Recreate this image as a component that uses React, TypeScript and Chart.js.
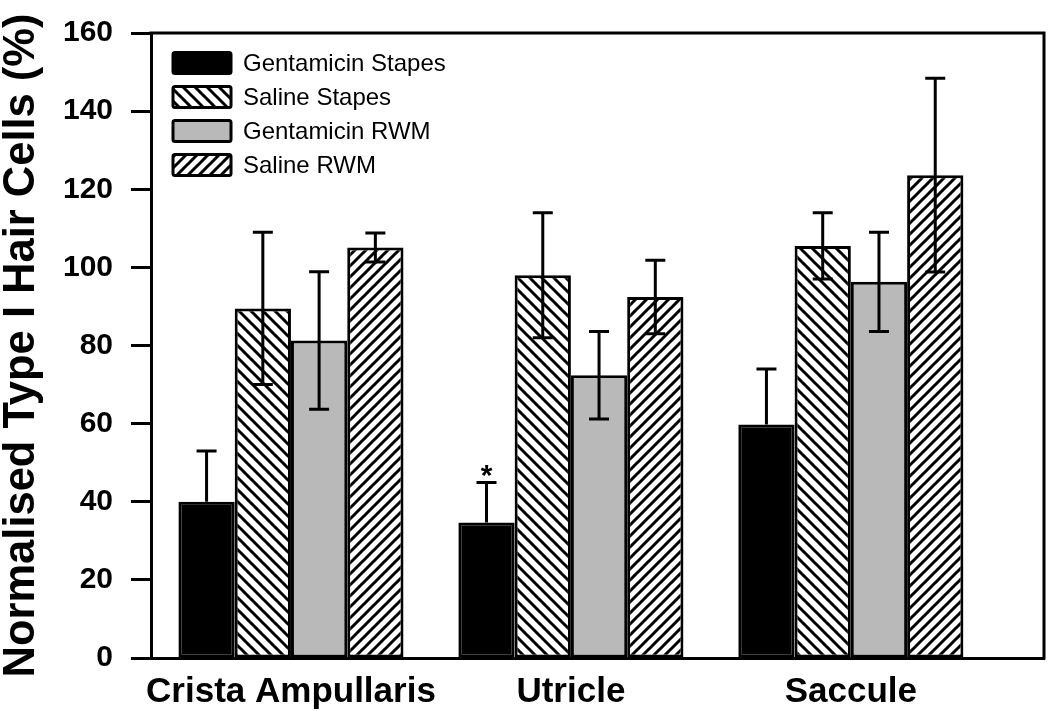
import React, { useEffect, useRef } from 'react';
import { Chart, registerables } from 'chart.js';

Chart.register(...registerables);

const categories = ['Crista Ampullaris', 'Utricle', 'Saccule'];
const seriesNames = ['Gentamicin Stapes', 'Saline Stapes', 'Gentamicin RWM', 'Saline RWM'];

const gentamicinStapes = [40, 34.7, 59.8];
const gentamicinStapesErr = [13, 10.2, 14.2];
const salineStapes = [89.5, 98, 105.5];
const salineStapesErr = [19.5, 16, 8.5];
const gentamicinRWM = [81.3, 72.4, 96.3];
const gentamicinRWMErr = [17.6, 11.2, 12.7];
const salineRWM = [105.1, 92.4, 123.6];
const salineRWMErr = [3.7, 9.4, 24.8];

const yTicks = [0, 20, 40, 60, 80, 100, 120, 140, 160];
const significant = [false, true, false];

const FONT = "'Liberation Sans', Arial, sans-serif";

function makeHatch(dir: 'back' | 'fwd', size: number, lw: number): CanvasPattern | string {
  const c = document.createElement('canvas');
  c.width = size;
  c.height = size;
  const g = c.getContext('2d');
  if (!g) return '#fff';
  g.fillStyle = '#fff';
  g.fillRect(0, 0, size, size);
  g.strokeStyle = '#000';
  g.lineWidth = lw;
  g.lineCap = 'square';
  g.beginPath();
  if (dir === 'back') {
    g.moveTo(0, 0); g.lineTo(size, size);
    g.moveTo(-2, size - 2); g.lineTo(2, size + 2);
    g.moveTo(size - 2, -2); g.lineTo(size + 2, 2);
  } else {
    g.moveTo(0, size); g.lineTo(size, 0);
    g.moveTo(-2, 2); g.lineTo(2, -2);
    g.moveTo(size - 2, size + 2); g.lineTo(size + 2, size - 2);
  }
  g.stroke();
  const p = g.createPattern(c, 'repeat');
  return p || '#fff';
}

const errorBarPlugin = {
  id: 'errorBars',
  afterDatasetsDraw(chart: any) {
    const { ctx } = chart;
    const yScale = chart.scales.y;
    chart.data.datasets.forEach((ds: any, i: number) => {
      const meta = chart.getDatasetMeta(i);
      meta.data.forEach((el: any, j: number) => {
        const v = ds.data[j].y;
        const e = ds.errors[j];
        const yTop = yScale.getPixelForValue(v + e);
        const yBar = yScale.getPixelForValue(v);
        const yBot = ds.upOnly ? yBar : yScale.getPixelForValue(v - e);
        const x = el.x;
        ctx.save();
        ctx.strokeStyle = '#000';
        ctx.lineWidth = 3;
        ctx.beginPath();
        ctx.moveTo(x, yBot);
        ctx.lineTo(x, yTop);
        ctx.moveTo(x - 10, yTop);
        ctx.lineTo(x + 10, yTop);
        if (!ds.upOnly) {
          ctx.moveTo(x - 10, yBot);
          ctx.lineTo(x + 10, yBot);
        }
        ctx.stroke();
        if (i === 0 && significant[j]) {
          ctx.fillStyle = '#000';
          ctx.font = `bold 30px ${FONT}`;
          ctx.textAlign = 'center';
          ctx.textBaseline = 'alphabetic';
          ctx.fillText('*', x, yTop + 2);
        }
        ctx.restore();
      });
    });
  },
};

const framePlugin = {
  id: 'frame',
  afterDraw(chart: any) {
    const { ctx, chartArea } = chart;
    ctx.save();
    ctx.strokeStyle = '#000';
    ctx.lineWidth = 3;
    ctx.beginPath();
    ctx.moveTo(chartArea.left - 1.5, chartArea.top);
    ctx.lineTo(chartArea.right, chartArea.top);
    ctx.lineTo(chartArea.right, chartArea.bottom + 1.5);
    ctx.stroke();
    ctx.restore();
  },
};

const legendPlugin = {
  id: 'customLegend',
  afterDraw(chart: any) {
    const { ctx } = chart;
    const x0 = 173;
    const w = 58;
    const h = 21;
    const y0 = 63;
    const step = 34;
    chart.data.datasets.forEach((ds: any, i: number) => {
      const cy = y0 + i * step;
      ctx.save();
      ctx.fillStyle = ds.backgroundColor;
      ctx.strokeStyle = '#000';
      ctx.lineWidth = 3;
      ctx.beginPath();
      if ((ctx as any).roundRect) {
        (ctx as any).roundRect(x0, cy - h / 2, w, h, 2);
      } else {
        ctx.rect(x0, cy - h / 2, w, h);
      }
      ctx.fill();
      ctx.stroke();
      ctx.fillStyle = '#000';
      ctx.font = `24px ${FONT}`;
      ctx.textAlign = 'left';
      ctx.textBaseline = 'middle';
      ctx.fillText(ds.label, x0 + w + 12, cy + 1);
      ctx.restore();
    });
  },
};

export default function App() {
  const ref = useRef<HTMLCanvasElement | null>(null);

  useEffect(() => {
    if (!ref.current) return;
    const backHatch = makeHatch('back', 12, 3);
    const fwdHatch = makeHatch('fwd', 11, 3);
    const toPts = (arr: number[]) => arr.map((v, i) => ({ x: i, y: v }));

    const chart = new Chart(ref.current, {
      type: 'bar',
      data: {
        datasets: [
          {
            label: seriesNames[0],
            data: toPts(gentamicinStapes),
            backgroundColor: '#000',
            borderColor: '#000',
            borderWidth: 3,
            borderSkipped: false,
            errors: gentamicinStapesErr,
            upOnly: true,
          } as any,
          {
            label: seriesNames[1],
            data: toPts(salineStapes),
            backgroundColor: backHatch,
            borderColor: '#000',
            borderWidth: 3,
            borderSkipped: false,
            errors: salineStapesErr,
            upOnly: false,
          } as any,
          {
            label: seriesNames[2],
            data: toPts(gentamicinRWM),
            backgroundColor: '#b9b9b9',
            borderColor: '#000',
            borderWidth: 3,
            borderSkipped: false,
            errors: gentamicinRWMErr,
            upOnly: false,
          } as any,
          {
            label: seriesNames[3],
            data: toPts(salineRWM),
            backgroundColor: fwdHatch,
            borderColor: '#000',
            borderWidth: 3,
            borderSkipped: false,
            errors: salineRWMErr,
            upOnly: false,
          } as any,
        ],
      },
      options: {
        animation: false,
        responsive: false,
        devicePixelRatio: 1,
        layout: { padding: { left: 0, right: 6, top: 33, bottom: 0 } },
        datasets: { bar: { categoryPercentage: 0.804, barPercentage: 1, grouped: true } },
        plugins: {
          legend: { display: false },
          tooltip: { enabled: false },
        },
        scales: {
          x: {
            type: 'linear',
            min: -0.5,
            max: 2.69,
            offset: false,
            grid: { display: false, drawTicks: false, offset: false },
            border: { display: true, color: '#000', width: 3 },
            afterBuildTicks: (s: any) => {
              s.ticks = categories.map((_, i) => ({ value: i }));
            },
            ticks: {
              callback: (v: any) => categories[v as number] ?? '',
              font: { family: FONT, size: 35, weight: 'bold' },
              color: '#000',
              padding: 13,
              maxRotation: 0,
              autoSkip: false,
            },
            afterFit: (s: any) => {
              s.height = 53;
            },
          },
          y: {
            min: 0,
            max: 160,
            afterBuildTicks: (s: any) => {
              s.ticks = yTicks.map((v) => ({ value: v }));
            },
            grid: { drawOnChartArea: false, drawTicks: true, tickLength: 20, tickWidth: 3, tickColor: '#000' },
            border: { display: true, color: '#000', width: 3 },
            ticks: {
              font: { family: FONT, size: 30, weight: 'bold', lineHeight: 1 },
              color: '#000',
              padding: 18,
            },
            title: {
              display: true,
              text: 'Normalised Type I Hair Cells (%)',
              font: { family: FONT, size: 43.5, weight: 'bold', lineHeight: 1 },
              color: '#000',
              padding: 0,
            },
            afterFit: (s: any) => {
              s.width = 151;
            },
          },
        },
      } as any,
      plugins: [errorBarPlugin, framePlugin, legendPlugin],
    });
    return () => chart.destroy();
  }, []);

  return (
    <div style={{ position: 'absolute', left: 0, top: 0, width: 1050, height: 711, background: '#fff' }}>
      <canvas ref={ref} width={1050} height={711} style={{ display: 'block' }} />
    </div>
  );
}
